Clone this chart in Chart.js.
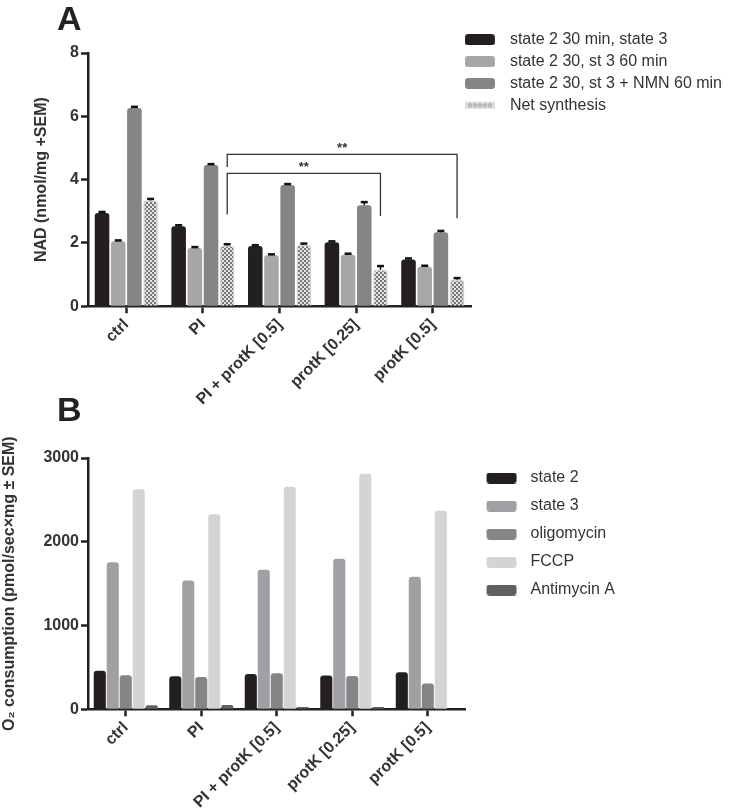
<!DOCTYPE html>
<html>
<head>
<meta charset="utf-8">
<script src="https://cdn.jsdelivr.net/npm/chart.js@4.4.1/dist/chart.umd.min.js"></script>
<style>
  body { margin: 0; background: #fff; width: 731px; height: 812px; overflow: hidden; position: relative; font-family: Arial, "Liberation Sans", sans-serif; }
  canvas { position: absolute; left: 0; }
  #plotA { top: 0; }
  #plotB { top: 400px; }
  .panel { position: absolute; left: 57px; font-weight: bold; font-size: 34px; line-height: 1; color: #222; }
</style>
</head>
<body>
<canvas id="plotA" width="744" height="411"></canvas>
<canvas id="plotB" width="731" height="414"></canvas>
<div class="panel" style="top:1px">A</div>
<div class="panel" style="top:392px">B</div>
<script>
// categories (same for both panels)
const groups = ['ctrl', 'PI', 'PI + protK [0.5]', 'protK [0.25]', 'protK [0.5]'];

// panel A - NAD (nmol/mg)
const labelsA = ['state 2 30 min, state 3', 'state 2 30, st 3 60 min', 'state 2 30, st 3 + NMN 60 min', 'Net synthesis'];
const nadState3 = [2.95, 2.53, 1.90, 2.02, 1.48];
const nadSt3_60 = [2.05, 1.84, 1.61, 1.63, 1.25];
const nadNmn60 = [6.26, 4.46, 3.83, 3.19, 2.34];
const nadNet = [3.34, 1.92, 1.94, 1.15, 0.84];
const semState3 = [0.03, 0.03, 0.03, 0.03, 0.03];
const semSt3_60 = [0.03, 0.03, 0.03, 0.03, 0.03];
const semNmn60 = [0.04, 0.03, 0.03, 0.10, 0.04];
const semNet = [0.05, 0.04, 0.04, 0.12, 0.05];

// significance brackets (group index of the Net synthesis bars)
const bracketFrom = [1, 1];
const bracketTo = [3, 4];
const bracketLevel = [4.2, 4.8];
const bracketLeftEnd = [2.9, 4.4];
const bracketRightEnd = [2.85, 2.78];
const bracketText = ['**', '**'];

// panel B - O2 consumption
const labelsB = ['state 2', 'state 3', 'oligomycin', 'FCCP', 'Antimycin A'];
const o2State2 = [460, 394, 422, 402, 442];
const o2State3 = [1755, 1538, 1665, 1797, 1582];
const o2Oligo = [405, 386, 430, 398, 307];
const o2Fccp = [2628, 2327, 2657, 2813, 2371];
const o2Anti = [48, 50, 26, 26, 0];

const FONT = 'Arial, "Liberation Sans", sans-serif';
Chart.defaults.font.family = FONT;
Chart.defaults.color = '#333';

// checker pattern for Net synthesis
const tile = document.createElement('canvas');
tile.width = 4; tile.height = 4;
const tg = tile.getContext('2d');
tg.fillStyle = '#e4e4e4'; tg.fillRect(0, 0, 4, 4);
tg.fillStyle = '#767676'; tg.fillRect(0, 0, 2, 2); tg.fillRect(2, 2, 2, 2);
const checker = tg.createPattern(tile, 'repeat');

// legend swatch images (padL / padR give the spacing seen in the figure)
const swatch = (color, padL, padR, dots) => {
  const c = document.createElement('canvas');
  c.width = padL + 30 + padR; c.height = 11;
  const g = c.getContext('2d');
  if (dots) {
    g.fillStyle = '#dcdcdc';
    g.fillRect(padL, 2, 30, 7);
    g.strokeStyle = '#8a8a8a'; g.lineWidth = 0.8;
    for (let k = 0; k < 5; k++) {
      g.beginPath(); g.arc(padL + 5 + k * 5, 5.5, 1.5, 0, Math.PI * 2); g.stroke();
    }
  } else {
    g.fillStyle = color;
    g.beginPath(); g.roundRect(padL, 0, 30, 11, 3); g.fill();
  }
  return c;
};

const errorBars = {
  id: 'errorBars',
  afterDatasetsDraw(chart) {
    const ctx = chart.ctx;
    const y = chart.scales.y;
    chart.data.datasets.forEach((ds, i) => {
      if (!ds.sem) return;
      chart.getDatasetMeta(i).data.forEach((bar, j) => {
        const top = y.getPixelForValue(ds.data[j] + ds.sem[j]);
        ctx.save();
        ctx.strokeStyle = '#111';
        ctx.lineWidth = 1.5;
        ctx.beginPath(); ctx.moveTo(bar.x, bar.y); ctx.lineTo(bar.x, top); ctx.stroke();
        ctx.lineWidth = 2.5;
        ctx.beginPath(); ctx.moveTo(bar.x - 3.5, top); ctx.lineTo(bar.x + 3.5, top); ctx.stroke();
        ctx.restore();
      });
    });
  }
};

const brackets = {
  id: 'brackets',
  afterDatasetsDraw(chart) {
    const ctx = chart.ctx;
    const y = chart.scales.y;
    const bars = chart.getDatasetMeta(3).data;
    ctx.save();
    ctx.strokeStyle = '#333';
    ctx.fillStyle = '#333';
    ctx.lineWidth = 1.3;
    ctx.font = 'bold 13px ' + FONT;
    ctx.textAlign = 'center';
    ctx.textBaseline = 'alphabetic';
    bracketFrom.forEach((from, k) => {
      const x1 = bars[from].x, x2 = bars[bracketTo[k]].x;
      const yl = y.getPixelForValue(bracketLevel[k]);
      ctx.beginPath();
      ctx.moveTo(x1, y.getPixelForValue(bracketLeftEnd[k]));
      ctx.lineTo(x1, yl);
      ctx.lineTo(x2, yl);
      ctx.lineTo(x2, y.getPixelForValue(bracketRightEnd[k]));
      ctx.stroke();
      ctx.fillText(bracketText[k], (x1 + x2) / 2, yl - 2);
    });
    ctx.restore();
  }
};

// the legend in panel A starts a little left of the plot's right edge
const legendShift = {
  id: 'legendShift',
  afterLayout(chart, args, opts) {
    chart.legend.left += opts.dx;
    chart.legend.right += opts.dx;
  }
};

const xAxis = () => ({
  offset: true,
  border: { color: '#222', width: 2.5 },
  grid: { drawOnChartArea: false, drawTicks: true, tickLength: 7, tickWidth: 2.5, tickColor: '#222', offset: false },
  ticks: { color: '#333', font: { size: 16, weight: 'bold' }, minRotation: 45, maxRotation: 45, padding: 2, autoSkip: false }
});

const yAxis = (max, step, title, titlePad) => ({
  min: 0,
  max: max,
  border: { color: '#222', width: 2.5 },
  grid: { drawOnChartArea: false, drawTicks: true, tickLength: 7, tickWidth: 2.5, tickColor: '#222' },
  ticks: { stepSize: step, color: '#333', font: { size: 16, weight: 'bold' }, padding: 2, callback: v => String(v) },
  title: { display: true, text: title, color: '#333', font: { size: 16, weight: 'bold' }, padding: { top: titlePad, bottom: 0 } },
  afterFit: scale => { scale.width = 88; }
});

const legendOf = (swatches, pad, boxW) => ({
  position: 'right',
  align: 'start',
  maxWidth: 340,
  labels: {
    usePointStyle: true,
    pointStyleWidth: boxW,
    boxHeight: 11,
    padding: pad,
    color: '#333',
    font: { size: 16 },
    generateLabels: chart => chart.data.datasets.map((ds, i) => ({
      text: ds.label,
      fillStyle: '#000',
      strokeStyle: 'transparent',
      lineWidth: 0,
      pointStyle: swatches[i],
      rotation: 0,
      fontColor: '#333',
      hidden: !chart.isDatasetVisible(i),
      datasetIndex: i
    }))
  }
});

const barStyle = { borderRadius: 3, borderSkipped: 'start' };

// panel A
const swA = [swatch('#231f20', 0, 7), swatch('#a7a7aa', 0, 7), swatch('#858585', 0, 7), swatch(null, 0, 7, true)];
new Chart(document.getElementById('plotA'), {
  type: 'bar',
  data: {
    labels: groups,
    datasets: [
      { label: labelsA[0], data: nadState3, sem: semState3, backgroundColor: '#231f20', ...barStyle },
      { label: labelsA[1], data: nadSt3_60, sem: semSt3_60, backgroundColor: '#a7a7aa', ...barStyle },
      { label: labelsA[2], data: nadNmn60, sem: semNmn60, backgroundColor: '#858585', ...barStyle },
      { label: labelsA[3], data: nadNet, sem: semNet, backgroundColor: checker, borderColor: '#d0d0d0', borderWidth: 1.5, ...barStyle }
    ]
  },
  options: {
    responsive: false,
    animation: false,
    categoryPercentage: 0.845,
    barPercentage: 0.9,
    layout: { padding: { top: 26, left: 0, right: 0, bottom: 0 } },
    plugins: {
      title: { display: true, text: '', font: { size: 10 }, padding: { top: 0, bottom: 15 } },
      legend: legendOf(swA, 5.8, 37),
      legendShift: { dx: -12 },
      tooltip: { enabled: false }
    },
    scales: { x: xAxis(), y: yAxis(8, 2, 'NAD (nmol/mg +SEM)', 32) }
  },
  plugins: [errorBars, brackets, legendShift]
});

// panel B
const swB = [swatch('#231f20', 9, 6), swatch('#a0a0a4', 9, 6), swatch('#858585', 9, 6), swatch('#d4d4d4', 9, 6), swatch('#616161', 9, 6)];
new Chart(document.getElementById('plotB'), {
  type: 'bar',
  data: {
    labels: groups,
    datasets: [
      { label: labelsB[0], data: o2State2, backgroundColor: '#231f20', ...barStyle },
      { label: labelsB[1], data: o2State3, backgroundColor: '#a0a0a4', ...barStyle },
      { label: labelsB[2], data: o2Oligo, backgroundColor: '#858585', ...barStyle },
      { label: labelsB[3], data: o2Fccp, backgroundColor: '#d4d4d4', ...barStyle },
      { label: labelsB[4], data: o2Anti, backgroundColor: '#616161', ...barStyle }
    ]
  },
  options: {
    responsive: false,
    animation: false,
    categoryPercentage: 0.86,
    barPercentage: 0.93,
    layout: { padding: { top: 58, left: 0, right: 106, bottom: 0 } },
    plugins: {
      legend: legendOf(swB, 12, 45),
      tooltip: { enabled: false }
    },
    scales: { x: xAxis(), y: yAxis(3000, 1000, 'O\u2082 consumption (pmol/sec\u00d7mg \u00b1 SEM)', 0) }
  }
});
</script>
</body>
</html>
